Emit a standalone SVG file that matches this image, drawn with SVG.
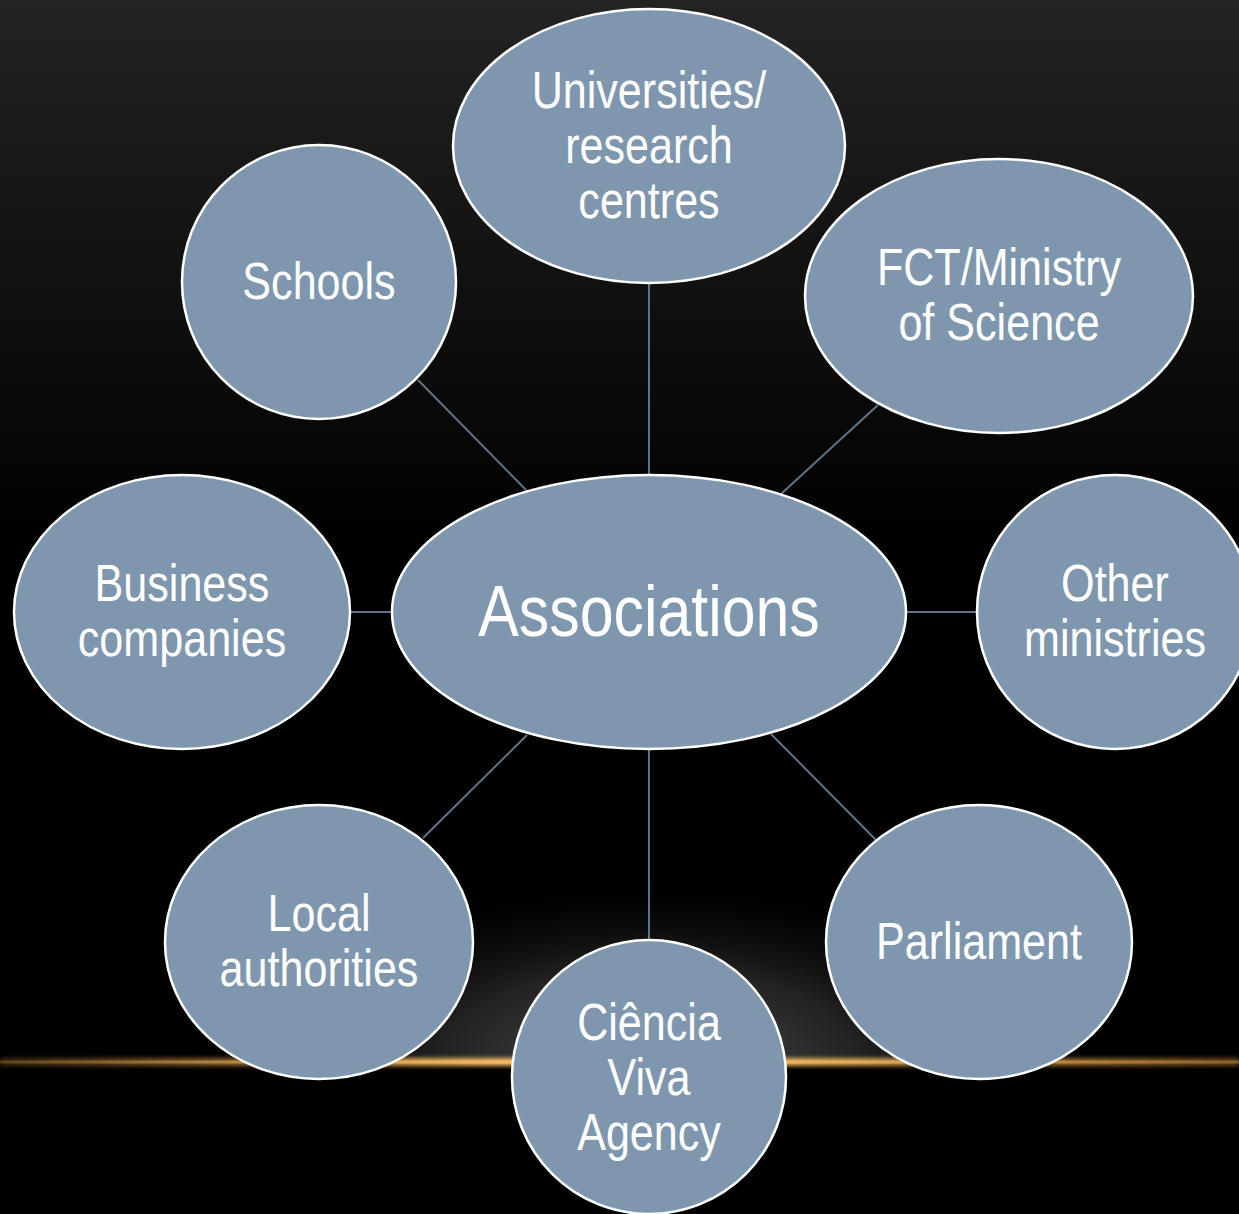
<svg xmlns="http://www.w3.org/2000/svg" width="1239" height="1214" viewBox="0 0 1239 1214">
<defs>
<linearGradient id="bg" x1="0" y1="0" x2="0" y2="1">
<stop offset="0" stop-color="#232323"/>
<stop offset="0.45" stop-color="#000"/>
<stop offset="1" stop-color="#000"/>
</linearGradient>
<radialGradient id="glow" cx="650" cy="1062" r="420" gradientUnits="userSpaceOnUse" gradientTransform="translate(650 1062) scale(1 0.45) translate(-650 -1062)">
<stop offset="0" stop-color="#4a4a4a"/>
<stop offset="0.5" stop-color="#222"/>
<stop offset="1" stop-color="#000" stop-opacity="0"/>
</radialGradient>
<linearGradient id="gold" x1="0" y1="0" x2="1" y2="0">
<stop offset="0" stop-color="#c08030" stop-opacity="0.3"/>
<stop offset="0.4" stop-color="#f0b860" stop-opacity="1"/>
<stop offset="0.6" stop-color="#f0b860" stop-opacity="1"/>
<stop offset="1" stop-color="#c08030" stop-opacity="0.5"/>
</linearGradient>
<filter id="blur" x="-10%" y="-300%" width="120%" height="700%">
<feGaussianBlur stdDeviation="2"/>
</filter>
</defs>
<style>
.n{fill:#7f97ae;stroke:#fff;stroke-width:2.5}
.c{stroke:#5f7388;stroke-width:2;fill:none}
.t{fill:#fff;font-family:"Liberation Sans",Arial,sans-serif;font-size:51px;text-anchor:middle}
.big{font-size:72px}
</style>
<rect width="1239" height="1214" fill="url(#bg)"/>
<rect x="0" y="880" width="1239" height="182" fill="url(#glow)"/>
<rect x="0" y="1058" width="1239" height="8" fill="url(#gold)" filter="url(#blur)"/>
<rect x="0" y="1060.5" width="1239" height="3" fill="url(#gold)"/>
<g id="connectors">
<line class="c" x1="649" y1="283" x2="649" y2="475"/>
<line class="c" x1="418" y1="380" x2="527" y2="491"/>
<line class="c" x1="878" y1="405" x2="781" y2="494"/>
<line class="c" x1="350" y1="612" x2="392" y2="612"/>
<line class="c" x1="906" y1="612" x2="978" y2="612"/>
<line class="c" x1="423" y1="838" x2="527" y2="735"/>
<line class="c" x1="649" y1="749" x2="649" y2="940"/>
<line class="c" x1="771" y1="734" x2="876" y2="840"/>
</g>
<g id="associations">
<ellipse class="n" cx="649" cy="612" rx="257" ry="137"/>
<text class="t big" transform="matrix(0.845 0 0 1 649 0)" x="0" y="636">Associations</text>
</g>
<g id="universities">
<ellipse class="n" cx="649" cy="146" rx="196" ry="137"/>
<g transform="matrix(0.845 0 0 1 649 0)">
<text class="t" x="0" y="108">Universities/</text>
<text class="t" x="0" y="163">research</text>
<text class="t" x="0" y="218">centres</text>
</g>
</g>
<g id="fct">
<ellipse class="n" cx="999" cy="296" rx="194" ry="137"/>
<g transform="matrix(0.845 0 0 1 999 0)">
<text class="t" x="0" y="285">FCT/Ministry</text>
<text class="t" x="0" y="340">of Science</text>
</g>
</g>
<g id="schools">
<ellipse class="n" cx="319" cy="282" rx="137" ry="137"/>
<text class="t" transform="matrix(0.845 0 0 1 319 0)" x="0" y="299">Schools</text>
</g>
<g id="business">
<ellipse class="n" cx="182" cy="612" rx="168" ry="137"/>
<g transform="matrix(0.845 0 0 1 182 0)">
<text class="t" x="0" y="601">Business</text>
<text class="t" x="0" y="656">companies</text>
</g>
</g>
<g id="other">
<ellipse class="n" cx="1115" cy="612" rx="138" ry="137"/>
<g transform="matrix(0.845 0 0 1 1115 0)">
<text class="t" x="0" y="601">Other</text>
<text class="t" x="0" y="656">ministries</text>
</g>
</g>
<g id="local">
<ellipse class="n" cx="319" cy="942" rx="154" ry="137"/>
<g transform="matrix(0.845 0 0 1 319 0)">
<text class="t" x="0" y="931">Local</text>
<text class="t" x="0" y="986">authorities</text>
</g>
</g>
<g id="parliament">
<ellipse class="n" cx="979" cy="942" rx="153" ry="137"/>
<text class="t" transform="matrix(0.845 0 0 1 979 0)" x="0" y="959">Parliament</text>
</g>
<g id="cienciaviva">
<ellipse class="n" cx="649" cy="1077" rx="137" ry="137"/>
<g transform="matrix(0.845 0 0 1 649 0)">
<text class="t" x="0" y="1040">Ciência</text>
<text class="t" x="0" y="1095">Viva</text>
<text class="t" x="0" y="1150">Agency</text>
</g>
</g>
</svg>
